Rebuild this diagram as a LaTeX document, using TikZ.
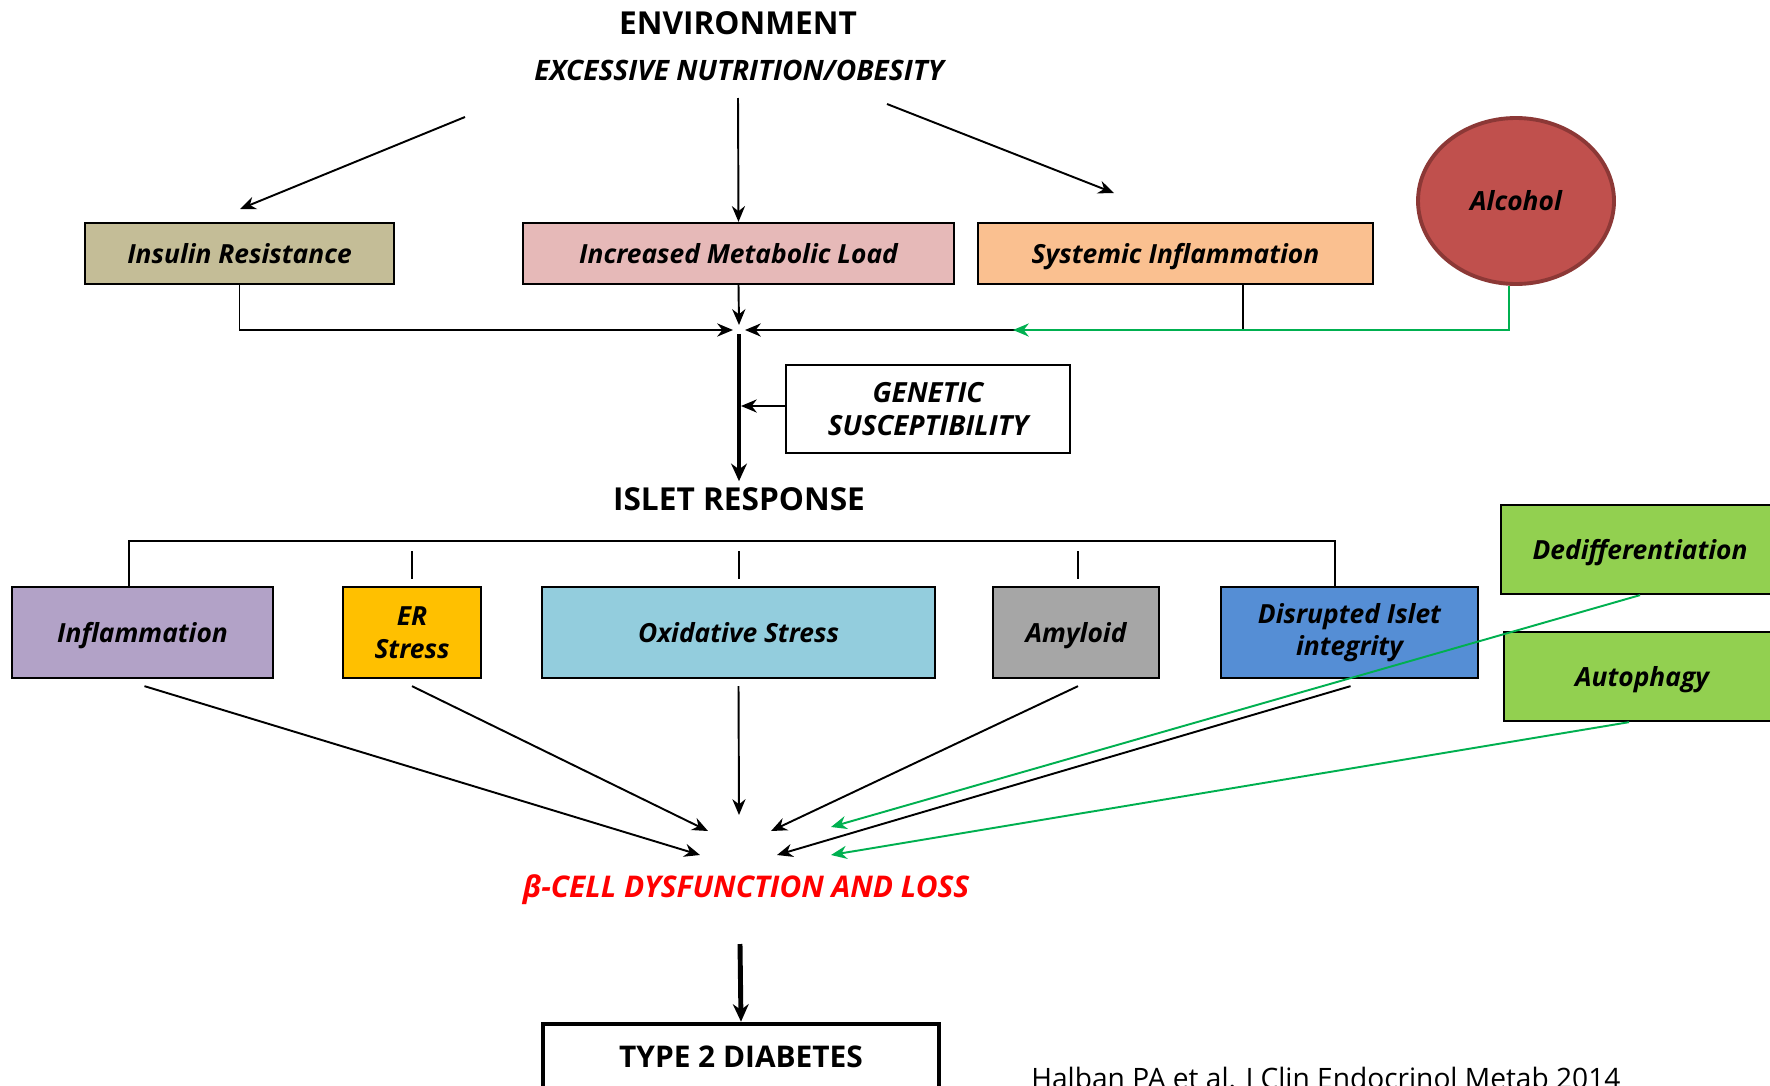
\documentclass[tikz,border=0pt]{standalone}
\usepackage{fontspec}
\setmainfont{Open Sans}
\usetikzlibrary{arrows.meta,shapes.geometric,calc}

\newdimen\px \px=0.02cm

\definecolor{khaki}{HTML}{C4BD97}
\definecolor{rosy}{HTML}{E6B9B8}
\definecolor{peach}{HTML}{FAC090}
\definecolor{alcred}{HTML}{C0504D}
\definecolor{alcedge}{HTML}{8C3836}
\definecolor{lilac}{HTML}{B2A2C7}
\definecolor{amber}{HTML}{FFC000}
\definecolor{skyblue}{HTML}{93CDDD}
\definecolor{midgray}{HTML}{A6A6A6}
\definecolor{steel}{HTML}{558ED5}
\definecolor{leaf}{HTML}{92D050}
\definecolor{arrowgreen}{HTML}{00B050}

\begin{document}
\begin{tikzpicture}[x=0.02cm, y=-0.02cm,
    box/.style={draw, line width=1.3pt, inner sep=0pt, align=center,
        font=\fontsize{15}{18.5}\selectfont\bfseries\itshape},
    oneline/.style={text height=1.1em, text depth=0pt},
    toprow/.style={box, oneline, minimum height=61\px},
    midrow/.style={box, minimum height=91\px},
    heading/.style={font=\fontsize{18}{21}\selectfont\bfseries},
    subhead/.style={font=\fontsize{16}{19}\selectfont\bfseries\itshape},
    link/.style={line width=1.1pt, -{Stealth[length=9pt,width=7.5pt]}},
    greenlink/.style={link, draw=arrowgreen},
    heavy/.style={line width=2.8pt, -{Stealth[length=10pt,width=9pt]}}]

    % Page frame
    \useasboundingbox (0,0) rectangle (1770,1085);

    % Environment headings
    \node[heading] (env) at (738,23) {ENVIRONMENT};
    \node[subhead] (obesity) at (739,70) {EXCESSIVE NUTRITION/OBESITY};

    % First row of factors
    \node[toprow, fill=khaki, minimum width=309\px] (insulin) at (239.5,253.5) {Insulin Resistance};
    \node[toprow, fill=rosy, minimum width=431\px] (metabolic) at (738.5,253.5) {Increased Metabolic Load};
    \node[toprow, fill=peach, minimum width=395\px] (systemic) at (1175.5,253.5) {Systemic Inflammation};
    \node[ellipse, oneline, draw=alcedge, line width=2.2pt, fill=alcred, minimum width=196\px, minimum height=166\px,
        font=\fontsize{15}{18}\selectfont\bfseries\itshape] (alcohol) at (1516,201) {Alcohol};

    % Arrows out of the heading
    \coordinate (leftstart) at (465,117);
    \coordinate (leftend) at (240,209);
    \coordinate (midstart) at (738,98);
    \coordinate (rightstart) at (887,104);
    \coordinate (rightend) at (1114,193);
    \draw[link] (leftstart) -- (leftend);
    \draw[link] (midstart) -- (metabolic.north);
    \draw[link] (rightstart) -- (rightend);

    % Everything meets on one line
    \coordinate (join) at (739,330);
    \draw[link] (insulin.south) |- ($(join)+(-6,0)$);
    \draw[link] (metabolic.south) -- ($(join)+(0,-5)$);
    \draw[link] (systemic.south -| 1243,0) |- ($(join)+(6,0)$);
    \draw[greenlink] (alcohol.south -| 1509,0) |- (1013,330);

    % Islet response
    \node[heading] (islet) at (739,499) {ISLET RESPONSE};
    \draw[heavy] ($(join)+(0,4)$) -- (islet.north);

    \node[box, line width=1.1pt, minimum width=284\px, minimum height=88\px,
        font=\fontsize{15.8}{19}\selectfont\bfseries\itshape] (genetic) at (928,409) {GENETIC\\SUSCEPTIBILITY};
    \draw[link] (genetic.west |- 0,406) -- (741,406);

    % Second row of factors
    \node[midrow, oneline, fill=lilac, minimum width=261\px] (inflammation) at (142.5,632.5) {Inflammation};
    \node[midrow, fill=amber, minimum width=138\px] (er) at (412,632.5) {ER\\Stress};
    \node[midrow, oneline, fill=skyblue, minimum width=393\px] (oxidative) at (738.5,632.5) {Oxidative Stress};
    \node[midrow, oneline, fill=midgray, minimum width=166\px] (amyloid) at (1076,632.5) {Amyloid};
    \node[midrow, fill=steel, minimum width=257\px] (disrupted) at (1349.5,632.5) {Disrupted Islet\\integrity};
    \node[midrow, oneline, fill=leaf, minimum width=278\px, minimum height=89\px] (dediff) at (1640,549.5) {Dedifferentiation};
    \node[midrow, oneline, fill=leaf, minimum width=276\px, minimum height=89\px] (autophagy) at (1642,676.5) {Autophagy};

    % Bracket under the islet response
    \draw[line width=1.1pt] (inflammation.north -| 129,0) -- (129,541) -- (1335,541) -- (disrupted.north -| 1335,0);
    \foreach \x in {412,739,1078}
        \draw[line width=1.1pt] (\x,551) -- (\x,579);

    % Beta cell outcome
    \node[font=\fontsize{17}{20}\selectfont\bfseries\itshape, text=red] (beta) at (746,890) {β-CELL DYSFUNCTION AND LOSS};
    \coordinate (b1) at (700,855);
    \coordinate (b2) at (708,831);
    \coordinate (b3) at (739,815);
    \coordinate (b4) at (771,831);
    \coordinate (b5) at (777,855);
    \coordinate (b6) at (831,827);
    \coordinate (b7) at (831,855);
    \draw[link] ($(inflammation.south)+(2,7)$) -- (b1);
    \draw[link] ($(er.south)+(0,7)$) -- (b2);
    \draw[link] ($(oxidative.south)+(0,7)$) -- (b3);
    \draw[link] ($(amyloid.south)+(2,7)$) -- (b4);
    \draw[link] ($(disrupted.south)+(1,7)$) -- (b5);
    \draw[greenlink] (dediff.south) -- (b6);
    \draw[greenlink] ($(autophagy.south)+(-13,0)$) -- (b7);

    % Final outcome
    \node[box, line width=2.6pt, minimum width=396\px, minimum height=66\px,
        font=\fontsize{17}{20}\selectfont\bfseries] (diabetes) at (741,1057) {TYPE 2 DIABETES};
    \draw[heavy] (740,944) -- (diabetes.north);

    % Source
    \node[anchor=base west, inner sep=0pt, font=\fontsize{16}{19}\selectfont] (source) at (1031,1088) {Halban PA et al. J Clin Endocrinol Metab 2014};

\end{tikzpicture}
\end{document}
